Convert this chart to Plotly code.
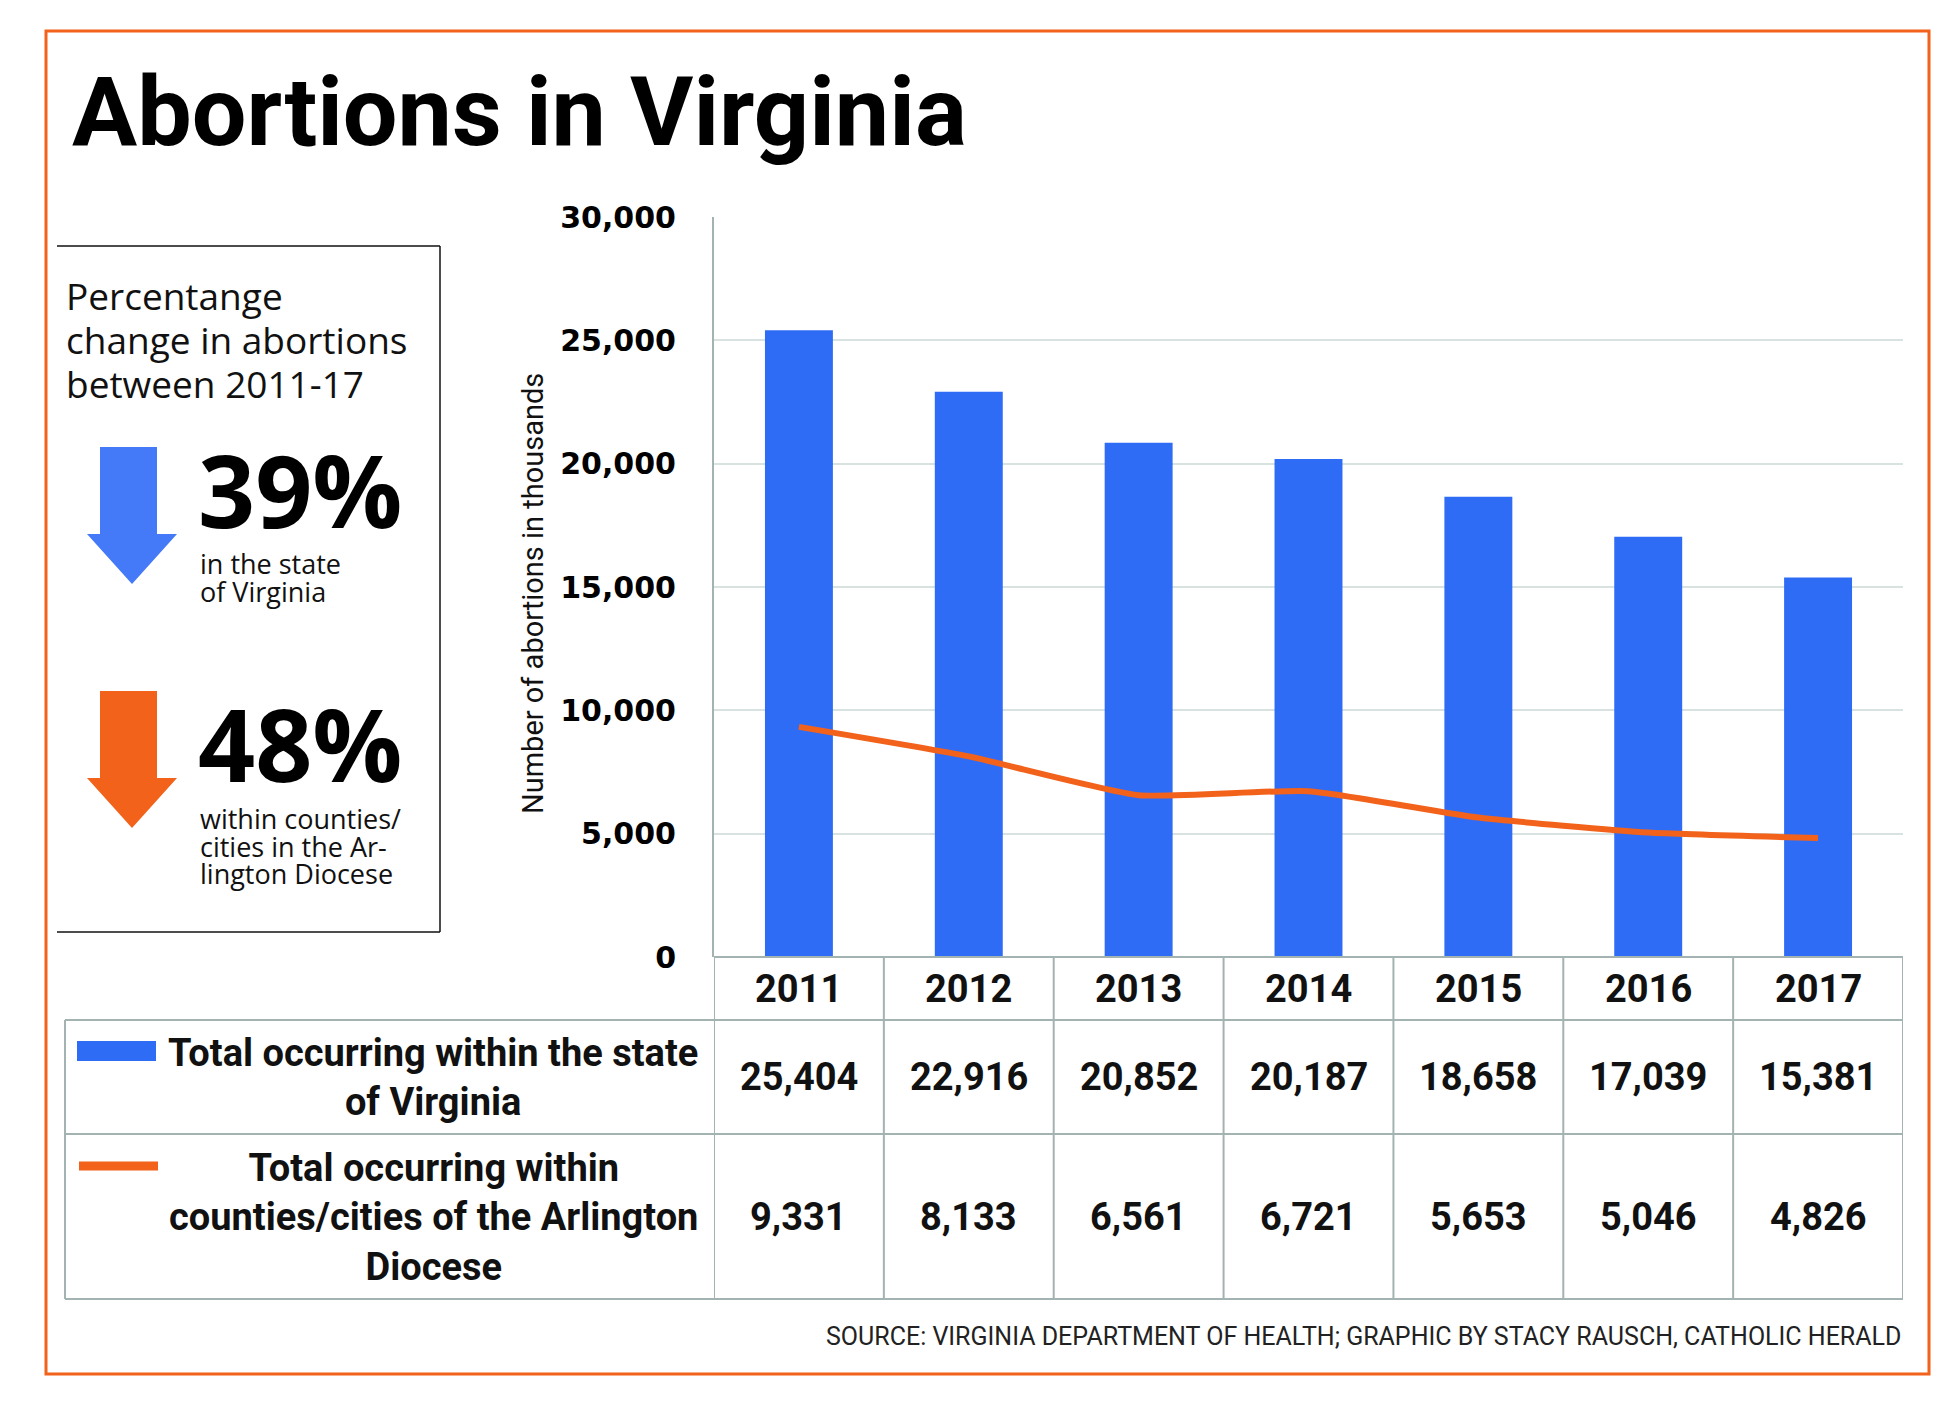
import plotly.graph_objects as go

W, H = 1958, 1416

# ---------------- data ----------------
years = ["2011", "2012", "2013", "2014", "2015", "2016", "2017"]
state_totals = [25404, 22916, 20852, 20187, 18658, 17039, 15381]
diocese_totals = [9331, 8133, 6561, 6721, 5653, 5046, 4826]
y_ticks = [0, 5000, 10000, 15000, 20000, 25000, 30000]

title_text = "Abortions in Virginia"
box_heading = ["Percentange", "change in abortions", "between 2011-17"]
state_pct = "39%"
state_caption = ["in the state", "of Virginia"]
diocese_pct = "48%"
diocese_caption = ["within counties/", "cities in the Ar-", "lington Diocese"]
row_labels = ["Total occurring within the state<br>of Virginia",
              "Total occurring within<br>counties/cities of the Arlington<br>Diocese"]
y_title = "Number of abortions in thousands"
source_text = "SOURCE: VIRGINIA DEPARTMENT OF HEALTH; GRAPHIC BY STACY RAUSCH, CATHOLIC HERALD"

# ---------------- styles ----------------
BLUE = "#2F6CF6"
BLUE_ARROW = "#4479F8"
ORANGE = "#F2621B"
GRID = "#D8E2E1"
TABLE = "#A3B3B1"


def px(x):
    return x / W


def py(y):
    return 1 - y / H


fig = go.Figure()
fig.add_bar(x=years, y=state_totals, marker=dict(color=BLUE, line=dict(width=0)),
            hoverinfo="skip")
fig.add_scatter(x=years, y=diocese_totals, mode="lines",
                line=dict(color=ORANGE, width=6, shape="spline", smoothing=0.5),
                hoverinfo="skip")

shapes = []
annotations = []

# outer orange frame
shapes.append(dict(type="rect", xref="paper", yref="paper",
                   x0=px(46), x1=px(1929), y0=py(1374), y1=py(31),
                   line=dict(color=ORANGE, width=3)))

# left info box (top, right, bottom edges)
for (x0, y0, x1, y1) in [(57, 246, 440, 246), (440, 246, 440, 932), (57, 932, 440, 932)]:
    shapes.append(dict(type="line", xref="paper", yref="paper",
                       x0=px(x0), y0=py(y0), x1=px(x1), y1=py(y1),
                       line=dict(color="#111111", width=1.5)))


def arrow(top, color):
    pts = [(100, top), (157, top), (157, top + 87), (177, top + 87),
           (132, top + 137), (87, top + 87), (100, top + 87)]
    path = "M " + " L ".join(f"{px(x):.5f},{py(y):.5f}" for x, y in pts) + " Z"
    return dict(type="path", xref="paper", yref="paper", path=path,
                fillcolor=color, line=dict(width=0))


shapes.append(arrow(447, BLUE_ARROW))
shapes.append(arrow(691, ORANGE))

# table lines
for yy, x0 in [(957, 714), (1020, 65), (1134, 65), (1299, 65)]:
    shapes.append(dict(type="line", xref="paper", yref="paper",
                       x0=px(x0), x1=px(1903), y0=py(yy), y1=py(yy),
                       line=dict(color=TABLE, width=2)))
for k in range(len(years) + 1):
    shapes.append(dict(type="line", xref="x", yref="paper",
                       x0=k - 0.5, x1=k - 0.5, y0=py(957), y1=py(1299),
                       line=dict(color=TABLE, width=2)))
shapes.append(dict(type="line", xref="paper", yref="paper",
                   x0=px(65), x1=px(65), y0=py(1020), y1=py(1299),
                   line=dict(color=TABLE, width=2)))

# legend swatches
shapes.append(dict(type="rect", xref="paper", yref="paper",
                   x0=px(77), x1=px(156), y0=py(1061), y1=py(1041),
                   fillcolor=BLUE, line=dict(width=0)))
shapes.append(dict(type="line", xref="paper", yref="paper",
                   x0=px(79), x1=px(158), y0=py(1166), y1=py(1166),
                   line=dict(color=ORANGE, width=9)))

TFONT = dict(family="Roboto", size=38, color="#111111", weight="bold")

# title
annotations.append(dict(text=title_text, xref="paper", yref="paper",
                        x=px(70), y=py(112), xanchor="left", yanchor="middle",
                        showarrow=False,
                        font=dict(family="Roboto", size=97, color="#000000", weight="bold")))

# box texts
for i, line in enumerate(box_heading):
    annotations.append(dict(text=line, xref="paper", yref="paper",
                            x=px(64), y=py(295 + 44 * i), xanchor="left", yanchor="middle",
                            showarrow=False,
                            font=dict(family="Open Sans", size=37, color="#111111")))
annotations.append(dict(text=state_pct, xref="paper", yref="paper",
                        x=px(196), y=py(489), xanchor="left", yanchor="middle",
                        showarrow=False,
                        font=dict(family="Open Sans", size=100, color="#000000", weight="bold")))
annotations.append(dict(text=diocese_pct, xref="paper", yref="paper",
                        x=px(196), y=py(743), xanchor="left", yanchor="middle",
                        showarrow=False,
                        font=dict(family="Open Sans", size=100, color="#000000", weight="bold")))
for i, line in enumerate(state_caption):
    annotations.append(dict(text=line, xref="paper", yref="paper",
                            x=px(198), y=py(563 + 28 * i), xanchor="left", yanchor="middle",
                            showarrow=False,
                            font=dict(family="Open Sans", size=27, color="#111111")))
for i, line in enumerate(diocese_caption):
    annotations.append(dict(text=line, xref="paper", yref="paper",
                            x=px(198), y=py(818 + 28 * i), xanchor="left", yanchor="middle",
                            showarrow=False,
                            font=dict(family="Open Sans", size=27, color="#111111")))

# y axis title
annotations.append(dict(text=y_title, xref="paper", yref="paper",
                        x=px(533), y=py(594), xanchor="center", yanchor="middle",
                        textangle=-90, showarrow=False,
                        font=dict(family="Roboto", size=29, color="#111111")))

# table contents
for i, yr in enumerate(years):
    annotations.append(dict(text=yr, xref="x", yref="paper", x=i, y=py(989),
                            xanchor="center", yanchor="middle", showarrow=False, font=TFONT))
    annotations.append(dict(text=f"{state_totals[i]:,}", xref="x", yref="paper", x=i,
                            y=py(1077), xanchor="center", yanchor="middle",
                            showarrow=False, font=TFONT))
    annotations.append(dict(text=f"{diocese_totals[i]:,}", xref="x", yref="paper", x=i,
                            y=py(1217), xanchor="center", yanchor="middle",
                            showarrow=False, font=TFONT))
annotations.append(dict(text=row_labels[0], xref="paper", yref="paper",
                        x=px(433), y=py(1077), xanchor="center", yanchor="middle",
                        align="center", showarrow=False, font=TFONT))
annotations.append(dict(text=row_labels[1], xref="paper", yref="paper",
                        x=px(433), y=py(1217), xanchor="center", yanchor="middle",
                        align="center", showarrow=False, font=TFONT))

# source
annotations.append(dict(text=source_text, xref="paper", yref="paper",
                        x=px(1903), y=py(1336), xanchor="right", yanchor="middle",
                        showarrow=False,
                        font=dict(family="Roboto", size=25, color="#222222")))

fig.update_layout(
    width=W, height=H,
    margin=dict(l=0, r=0, t=0, b=0, pad=0, autoexpand=False),
    paper_bgcolor="white", plot_bgcolor="white",
    showlegend=False,
    bargap=0.6,
    xaxis=dict(domain=[px(714), px(1903)], type="category", range=[-0.5, 6.5],
               showticklabels=False, showgrid=False, zeroline=False, showline=False,
               ticks="", automargin=False),
    yaxis=dict(domain=[py(957), py(217)], range=[0, 30000], tickvals=y_ticks,
               tickformat=",", showgrid=True, gridcolor=GRID, gridwidth=2,
               zeroline=False, showline=True, linecolor=TABLE, linewidth=2,
               ticks="", ticklabelstandoff=30, automargin=False,
               tickfont=dict(family="DejaVu Sans", size=30, color="#000000", weight="bold")),
    shapes=shapes,
    annotations=annotations,
)

fig.write_html("out.html")
